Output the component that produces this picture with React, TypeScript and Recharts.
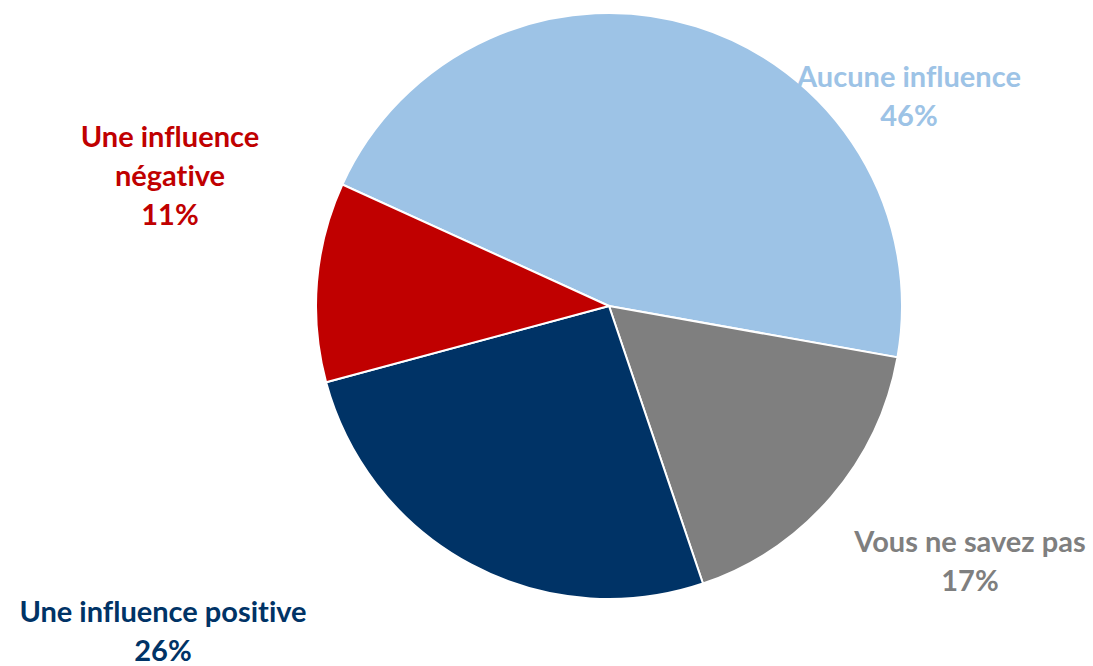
import { PieChart, Pie, Cell } from "recharts";

// ---- données ----
const NAMES = ["Aucune influence", "Vous ne savez pas", "Une influence positive", "Une influence négative"];
const VALUES = [46, 17, 26, 11];
// lignes de texte des étiquettes (sans le pourcentage)
const LABEL_LINES = [["Aucune influence"], ["Vous ne savez pas"], ["Une influence positive"], ["Une influence", "négative"]];

// ---- couleurs ----
const COLORS = ["#9DC3E6", "#7F7F7F", "#003366", "#C00000"];

// ---- placement des étiquettes (décalage depuis le centre du camembert) ----
const LABEL_OFFSET = [
  { dx: 300, dy: -211 },
  { dx: 361, dy: 254 },
  { dx: -446, dy: 324 },
  { dx: -439, dy: -132 },
];
const LINE_H = 39;

const chartData = NAMES.map((name, i) => ({ name, value: VALUES[i] }));

const renderLabel = (props: any) => {
  const { cx, cy, index, value } = props;
  const off = LABEL_OFFSET[index];
  const lines = [...LABEL_LINES[index], `${value}%`];
  const x = cx + off.dx;
  const top = cy + off.dy - ((lines.length - 1) * LINE_H) / 2;
  return (
    <text
      key={`lbl-${index}`}
      x={x}
      y={top}
      fill={COLORS[index]}
      textAnchor="middle"
      fontSize={29}
      fontWeight={700}
      fontFamily="Lato, 'Open Sans', sans-serif"
      style={{ fontVariantLigatures: "none" }}
    >
      {lines.map((l, j) => (
        <tspan key={j} x={x} y={top + j * LINE_H} dominantBaseline="central">
          {l}
        </tspan>
      ))}
    </text>
  );
};

export default function App() {
  return (
    <div style={{ position: "absolute", left: 0, top: 0, width: 1093, height: 666, background: "#fff" }}>
      <PieChart width={1093} height={666} margin={{ top: 0, right: 0, bottom: 0, left: 0 }}>
        <Pie
          data={chartData}
          dataKey="value"
          nameKey="name"
          cx={609}
          cy={306}
          outerRadius={293}
          startAngle={155.5}
          endAngle={-204.5}
          stroke="#fff"
          strokeWidth={2}
          labelLine={false}
          label={renderLabel}
          isAnimationActive={false}
        >
          {chartData.map((_, i) => (
            <Cell key={i} fill={COLORS[i]} />
          ))}
        </Pie>
      </PieChart>
    </div>
  );
}
